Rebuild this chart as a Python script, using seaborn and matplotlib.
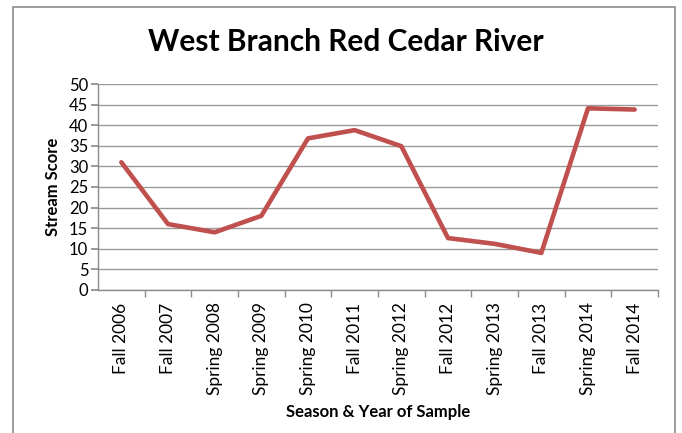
import pandas as pd
import seaborn as sns
import matplotlib.pyplot as plt
from matplotlib.patches import Rectangle

samples = ['Fall 2006', 'Fall 2007', 'Spring 2008', 'Spring 2009', 'Spring 2010',
           'Fall 2011', 'Spring 2012', 'Fall 2012', 'Spring 2013', 'Fall 2013',
           'Spring 2014', 'Fall 2014']
scores = [31, 16, 14, 18, 36.8, 38.8, 34.9, 12.6, 11.2, 9, 44.1, 43.8]
y_ticks = list(range(0, 55, 5))

df = pd.DataFrame({'sample': samples, 'score': scores})

sns.set_theme(style='white')
plt.rcParams['font.family'] = ['Lato', 'DejaVu Sans']

fig = plt.figure(figsize=(6.82, 4.33), dpi=100)
ax = fig.add_axes([0.1437, 0.3303, 0.8211, 0.4757])

# chart border (excel style)
fig.patches.append(Rectangle((0.019, -0.05), 0.971, 1.034, transform=fig.transFigure,
                             fill=False, edgecolor='#8c8c8c', linewidth=1.2, zorder=0))

sns.lineplot(data=df, x='sample', y='score', color='#C0504D', linewidth=3.3, ax=ax, sort=False)

n = len(samples)
ax.set_xlim(-0.5, n - 0.5)
ax.set_ylim(0, 50)
ax.set_yticks(y_ticks)
ax.set_xticks(range(n))
ax.set_xticklabels(samples, rotation=90, fontsize=12.5, color='black')
ax.tick_params(axis='x', length=0, pad=9)
ax.tick_params(axis='y', labelsize=12, labelcolor='black', length=5, color='#8c8c8c',
               direction='out', left=True, pad=2)
ax.set_xticks([i + 0.5 for i in range(n)], minor=True)
ax.tick_params(axis='x', which='minor', length=5, color='#8c8c8c', direction='out', bottom=True)
ax.grid(axis='y', color='#999999', linewidth=1)
ax.set_axisbelow(True)
for s in ['top', 'right']:
    ax.spines[s].set_visible(False)
for s in ['left', 'bottom']:
    ax.spines[s].set_color('#8c8c8c')
    ax.spines[s].set_linewidth(1)

ax.set_xlabel('Season & Year of Sample', fontsize=12, fontweight='bold', labelpad=6, color='black')
ax.set_ylabel('Stream Score', fontsize=12, fontweight='bold', labelpad=6, color='black')
fig.text(0.507, 0.903, 'West Branch Red Cedar River', ha='center', va='center',
         fontsize=21.5, fontweight='bold', color='black')

fig.savefig('out.png', dpi=100)
